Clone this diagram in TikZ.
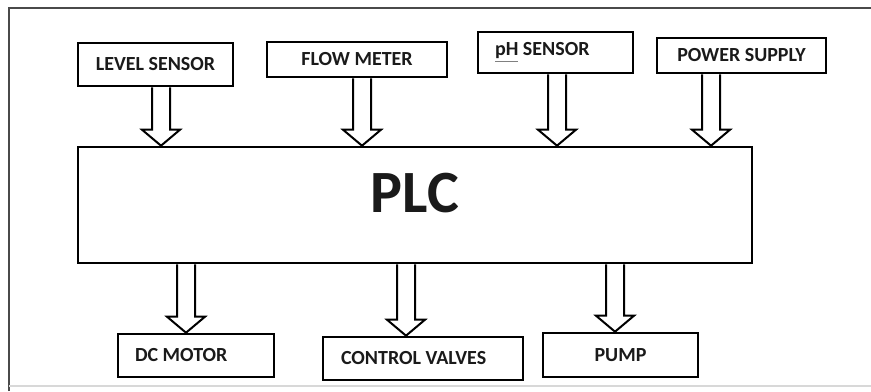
\documentclass[tikz,border=0pt]{standalone}
\usepackage{fontspec}
\setmainfont{Carlito}
\usetikzlibrary{calc}
\definecolor{frm}{HTML}{4A4A4A}
\definecolor{frmlt}{HTML}{D8D8D8}
\definecolor{txt}{HTML}{1A1A1A}

\newcommand{\hollowarrow}[3]{%
  \draw[ar] let \p3=(#1,0), \p1=(#2), \p2=(#3) in
    (\x3-4.5pt,\y1) -- (\x3-4.5pt,\y2+8pt) -- (\x3-9.5pt,\y2+8pt) -- (\x3,\y2)
    -- (\x3+9.5pt,\y2+8pt) -- (\x3+4.5pt,\y2+8pt) -- (\x3+4.5pt,\y1);}

\begin{document}
\begin{tikzpicture}[x=0.5pt,y=-0.5pt,
    bx/.style={draw=black,line width=1.3pt,inner sep=0pt,text=txt,
      font=\bfseries\fontsize{10pt}{12pt}\selectfont},
    bxl/.style={bx,align=flush left,inner xsep=8.5pt},
    ar/.style={draw=black,line width=1pt,line join=miter},
    fr/.style={draw=frm,line width=0.8pt},
  ]
    \useasboundingbox (0,0) rectangle (871,391);
    \draw[fr] (9,391) -- (9,8) -- (871,8);
    \draw[frmlt,line width=0.6pt] (9,386) -- (871,386);

    \node[bx,minimum width=77.5pt,minimum height=21.5pt](lvl) at (155.5,64.5)
      {LEVEL SENSOR};
    \node[bx,minimum width=90pt,minimum height=17.5pt](flow) at (357,59.5)
      {FLOW METER};
    \node[bxl,text width=60.5pt,minimum height=20.5pt](ph) at (555.5,52.5)
      {\rlap{\color{gray}\underline{\phantom{pH}}}pH SENSOR};
    \node[bx,minimum width=84.5pt,minimum height=17.5pt](pwr) at (741.5,55.5)
      {POWER SUPPLY};

    \node[bx,minimum width=337pt,minimum height=58pt,text depth=12pt,
      font=\bfseries\fontsize{30pt}{36pt}\selectfont](plc) at (415,205) {PLC};

    \node[bxl,text width=61pt,minimum height=21.5pt](dc) at (196,355.5)
      {DC MOTOR};
    \node[bxl,inner xsep=9pt,text width=82pt,minimum height=21.5pt](cv) at (423,358.5)
      {CONTROL VALVES};
    \node[bx,minimum width=77.5pt,minimum height=22pt](pump) at (620.5,355)
      {PUMP};

    \hollowarrow{161}{lvl.south}{plc.north}
    \hollowarrow{362}{flow.south}{plc.north}
    \hollowarrow{557}{ph.south}{plc.north}
    \hollowarrow{711}{pwr.south}{plc.north}
    \hollowarrow{186}{plc.south}{dc.north}
    \hollowarrow{406}{plc.south}{cv.north}
    \hollowarrow{615}{plc.south}{pump.north}
  \end{tikzpicture}
\end{document}
